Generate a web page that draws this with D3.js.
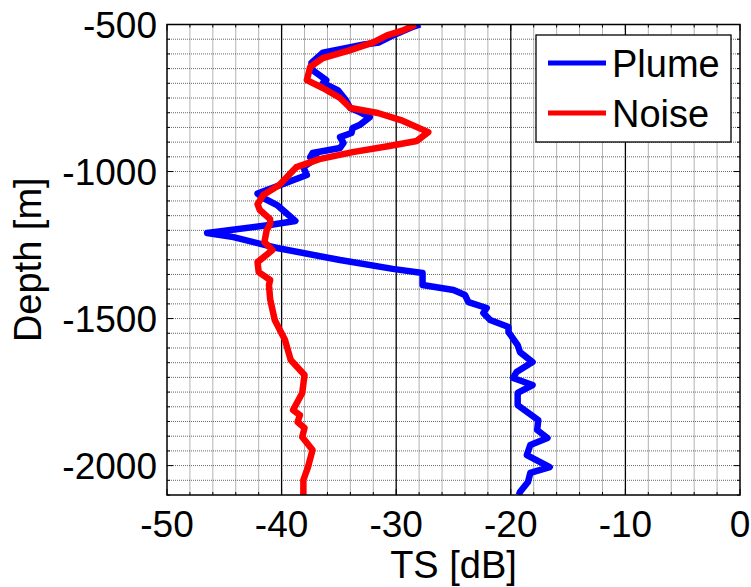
<!DOCTYPE html>
<html><head><meta charset="utf-8">
<script src="https://cdn.jsdelivr.net/npm/d3@7"></script>
<style>body{margin:0;background:#fff}svg{display:block}</style>
</head><body>
<svg id="c" width="751" height="587"></svg>
<script>
const xTicks = [-50, -40, -30, -20, -10, 0];
const yTicks = [-500, -1000, -1500, -2000];
const seriesNames = ["Plume", "Noise"];
const seriesColors = ["#0000ff", "#ff0000"];
const plumeTS = [-27.9,-28.5,-30.5,-31.5,-32.8,-36.4,-37.4,-37.3,-36.1,-36.4,-35.1,-34.4,-34.0,-33.2,-32.3,-33.2,-33.8,-33.9,-34.9,-34.6,-34.9,-37.3,-37.5,-36.9,-38.1,-37.8,-42.1,-41.6,-40.4,-38.8,-40.9,-46.5,-44.2,-40.4,-34.9,-30.3,-27.7,-27.7,-25.0,-24.0,-23.7,-22.1,-22.4,-21.8,-20.2,-20.2,-19.4,-19.2,-18.1,-19.5,-19.8,-18.1,-19.4,-19.4,-17.6,-17.7,-16.8,-18.3,-18.6,-16.6,-18.3,-18.5,-19.2,-19.3];
const plumeDepth = [-500,-507,-541,-561,-568,-596,-631,-655,-689,-699,-723,-757,-784,-798,-815,-842,-852,-869,-883,-903,-920,-937,-951,-954,-985,-1012,-1075,-1090,-1114,-1168,-1181,-1209,-1223,-1260,-1301,-1331,-1345,-1386,-1403,-1420,-1444,-1464,-1481,-1505,-1529,-1546,-1590,-1614,-1648,-1682,-1702,-1726,-1753,-1794,-1845,-1879,-1906,-1930,-1964,-2005,-2025,-2056,-2090,-2100];
const noiseTS = [-28.3,-29.4,-30.8,-32.0,-34.0,-36.4,-37.5,-37.8,-36.4,-34.9,-34.0,-31.6,-29.6,-27.2,-28.2,-30.6,-33.8,-36.7,-38.7,-40.2,-41.6,-42.1,-41.9,-41.0,-41.0,-41.3,-41.5,-40.8,-42.1,-42.0,-41.0,-41.1,-41.0,-40.6,-39.7,-39.2,-38.0,-38.2,-39.0,-38.4,-38.6,-38.0,-38.2,-37.3,-37.7,-38.1,-38.1];
const noiseDepth = [-500,-520,-537,-561,-587,-614,-644,-689,-716,-750,-784,-801,-825,-866,-896,-913,-934,-958,-985,-1046,-1080,-1111,-1131,-1162,-1179,-1199,-1240,-1267,-1308,-1342,-1369,-1386,-1434,-1505,-1573,-1641,-1692,-1753,-1811,-1828,-1852,-1872,-1903,-1947,-2005,-2049,-2100];

const svg = d3.select("#c");
const L = 167, R = 740, T = 24.5, B = 495;
const x = d3.scaleLinear().domain([-50, 0]).range([L, R]);
const y = d3.scaleLinear().domain([-500, -2100]).range([T, B]);
const font = "'Liberation Sans', Arial, sans-serif";

const g = svg.append("g");
// minor grid
d3.range(-48, 0, 2).filter(v => v % 10 !== 0).forEach(v => {
  g.append("line").attr("x1", x(v)).attr("x2", x(v)).attr("y1", T).attr("y2", B)
   .attr("stroke", "#666").attr("stroke-width", 1).attr("stroke-dasharray", "1,1");
});
d3.range(-550, -2100, -50).forEach(v => {
  g.append("line").attr("x1", L).attr("x2", R).attr("y1", y(v)).attr("y2", y(v))
   .attr("stroke", "#666").attr("stroke-width", 1).attr("stroke-dasharray", "1,1");
});
// major vertical grid
[-40, -30, -20, -10].forEach(v => {
  g.append("line").attr("x1", x(v)).attr("x2", x(v)).attr("y1", T).attr("y2", B)
   .attr("stroke", "#000").attr("stroke-width", 1.3);
});

// ticks
const tk = svg.append("g").attr("stroke", "#000").attr("stroke-width", 1);
d3.range(-50, 1, 2).forEach(v => {
  const len = v % 10 === 0 ? 6 : 3;
  tk.append("line").attr("x1", x(v)).attr("x2", x(v)).attr("y1", B).attr("y2", B - len);
  tk.append("line").attr("x1", x(v)).attr("x2", x(v)).attr("y1", T).attr("y2", T + len);
});
d3.range(-500, -2101, -50).forEach(v => {
  const len = v % 500 === 0 ? 6 : 3;
  tk.append("line").attr("x1", L).attr("x2", L + len).attr("y1", y(v)).attr("y2", y(v));
  tk.append("line").attr("x1", R).attr("x2", R - len).attr("y1", y(v)).attr("y2", y(v));
});

// lines
const line = d3.line().x(d => x(d[0])).y(d => y(d[1]));
const plume = plumeTS.map((v, i) => [v, plumeDepth[i]]);
const noise = noiseTS.map((v, i) => [v, noiseDepth[i]]);
svg.append("clipPath").attr("id", "cp").append("rect")
  .attr("x", L).attr("y", T).attr("width", R - L).attr("height", B - T);
[plume, noise].forEach((data, i) => {
  svg.append("path").datum(data).attr("d", line).attr("fill", "none")
    .attr("stroke", seriesColors[i]).attr("stroke-width", 6.5)
    .attr("stroke-linejoin", "round").attr("stroke-linecap", "butt")
    .attr("clip-path", "url(#cp)");
});

// frame
svg.append("rect").attr("x", L).attr("y", T).attr("width", R - L).attr("height", B - T)
  .attr("fill", "none").attr("stroke", "#000").attr("stroke-width", 1.5);

// tick labels
xTicks.forEach(v => {
  svg.append("text").attr("x", x(v)).attr("y", 537).attr("text-anchor", "middle")
    .attr("font-family", font).attr("font-size", 37).text(v);
});
yTicks.forEach(v => {
  svg.append("text").attr("x", 157).attr("y", y(v)).attr("dy", "0.36em").attr("text-anchor", "end")
    .attr("font-family", font).attr("font-size", 37).text(v);
});
svg.append("text").attr("x", (L + R) / 2).attr("y", 578).attr("text-anchor", "middle")
  .attr("font-family", font).attr("font-size", 38).text("TS [dB]");
svg.append("text").attr("transform", `translate(41,${(T + B) / 2}) rotate(-90)`)
  .attr("text-anchor", "middle").attr("font-family", font).attr("font-size", 38).text("Depth [m]");

// legend
const lg = svg.append("g");
lg.append("rect").attr("x", 536).attr("y", 35).attr("width", 195).attr("height", 107)
  .attr("fill", "#fff").attr("stroke", "#000").attr("stroke-width", 1.3);
seriesNames.forEach((n, i) => {
  const cy = 63 + i * 50;
  lg.append("line").attr("x1", 548).attr("x2", 606).attr("y1", cy).attr("y2", cy)
    .attr("stroke", seriesColors[i]).attr("stroke-width", 5);
  lg.append("text").attr("x", 612).attr("y", cy + 14).attr("font-family", font)
    .attr("font-size", 38).text(n);
});
</script>
</body></html>
